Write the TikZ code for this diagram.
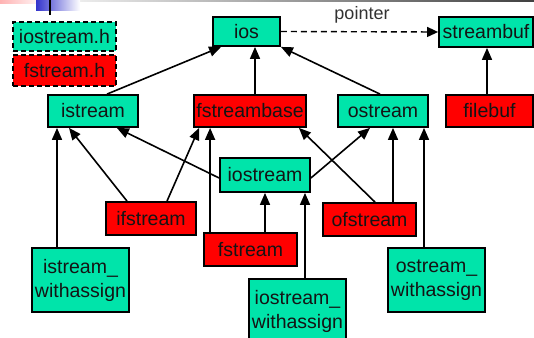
\documentclass[tikz,border=0pt]{standalone}
\usepackage{fontspec}
\setmainfont{Liberation Sans}
\usetikzlibrary{arrows.meta}
\definecolor{teal}{RGB}{0,228,170}
\definecolor{redbox}{RGB}{255,0,0}
\definecolor{txt}{RGB}{20,20,20}
\definecolor{ptxt}{RGB}{50,50,50}
\tikzset{
  box/.style={draw=black, line width=1.8pt, rectangle, inner sep=0pt, align=center,
    font=\fontsize{19.5}{24}\selectfont, text=txt},
  gbox/.style={box, fill=teal},
  rbox/.style={box, fill=redbox},
  legbox/.style={box, dash pattern=on 5pt off 3pt},
  arr/.style={line width=1.6pt, -{Triangle[length=12pt,width=10pt]}},
}
\begin{document}
\begin{tikzpicture}[x=1pt,y=-1pt]
\useasboundingbox (0,0) rectangle (534,337);
\clip (0,0) rectangle (534,337);
% slide decorations
\shade[left color=white, right color=black!75] (30,0) rectangle (534,1.6);
\shade[left color=red!30, right color=white] (0,0) rectangle (45,4);
\shade[left color=blue!75!black!80, right color=white] (36,0.5) rectangle (80,11);
\draw[line width=1.3pt] (50,0) -- (50,15);
% legend
\node[legbox, fill=teal, minimum width=103pt, minimum height=29pt] (iosh) at (64.5,36.5) {iostream.h};
\node[legbox, fill=redbox, minimum width=103pt, minimum height=31pt] (fsh) at (64.5,70.5) {fstream.h};
% nodes
\node[gbox, minimum width=67pt, minimum height=29pt] (ios) at (246.5,31.5) {ios};
\node[gbox, minimum width=94pt, minimum height=30pt] (streambuf) at (486,32) {streambuf};
\node[gbox, minimum width=90pt, minimum height=32pt] (istream) at (93,111) {istream};
\node[rbox, minimum width=112pt, minimum height=32pt] (fstreambase) at (250,111) {fstreambase};
\node[gbox, minimum width=90pt, minimum height=32pt] (ostream) at (383,111) {ostream};
\node[rbox, minimum width=87pt, minimum height=32pt] (filebuf) at (489.5,111) {filebuf};
\node[gbox, minimum width=90pt, minimum height=34pt] (iostream) at (265,175) {iostream};
\node[rbox, minimum width=90pt, minimum height=33pt] (ifstream) at (151,218.5) {ifstream};
\node[rbox, minimum width=93pt, minimum height=33pt] (fstream) at (250.5,249.5) {fstream};
\node[rbox, minimum width=93pt, minimum height=33pt] (ofstream) at (369.5,219.5) {ofstream};
\node[gbox, minimum width=97pt, minimum height=64pt] (isw) at (80.5,280) {istream\_\\withassign};
\node[gbox, minimum width=97pt, minimum height=64pt] (iosw) at (297.5,311) {iostream\_\\withassign};
\node[gbox, minimum width=97pt, minimum height=64pt] (osw) at (436.5,280) {ostream\_\\withassign};
% pointer
\draw[line width=1.4pt, dash pattern=on 6pt off 4pt, -{Triangle[length=11pt,width=10pt]}] (ios.east) -- (streambuf.west);
\node[font=\fontsize{18}{20}\selectfont, text=ptxt] (plabel) at (362,15) {pointer};
% arrows
\draw[arr] ([xshift=14pt]istream.north) -- ([xshift=9pt]ios.south west);
\draw[arr] ([xshift=5pt]fstreambase.north) -- ([xshift=5pt]fstreambase.north |- ios.south);
\draw[arr] ([xshift=-3pt]ostream.north) -- (ios.south east);
\draw[arr] ([xshift=-2.5pt]filebuf.north) -- ([xshift=-2.5pt]filebuf.north |- streambuf.south);
\draw[arr] ([xshift=-23.5pt]isw.north) -- ([xshift=-23.5pt]isw.north |- istream.south);
\draw[arr] ([xshift=-24pt]ifstream.north) -- ([xshift=-24pt]istream.south);
\draw[arr] ([xshift=16pt]ifstream.north) -- ([xshift=6pt]fstreambase.south west);
\draw[arr] ([yshift=-3pt]iostream.west) -- ([xshift=-22pt]istream.south east);
\draw[arr] ([xshift=7pt]fstream.north west) -- ([xshift=7pt]fstream.north west |- fstreambase.south);
\draw[arr] (fstream.north -| iostream.south) -- (iostream.south);
\draw[arr] ([xshift=7.5pt]iosw.north) -- ([xshift=7.5pt]iosw.north |- iostream.south);
\draw[arr] ([yshift=-3pt]iostream.east) -- ([xshift=-13pt]ostream.south);
\draw[arr] ([xshift=5.5pt]ofstream.north) -- ([xshift=-8pt]fstreambase.south east);
\draw[arr] ([xshift=10pt]ostream.south |- ofstream.north) -- ([xshift=10pt]ostream.south);
\draw[arr] ([xshift=-12.5pt]osw.north) -- ([xshift=-12.5pt]osw.north |- ostream.south);
\end{tikzpicture}
\end{document}
